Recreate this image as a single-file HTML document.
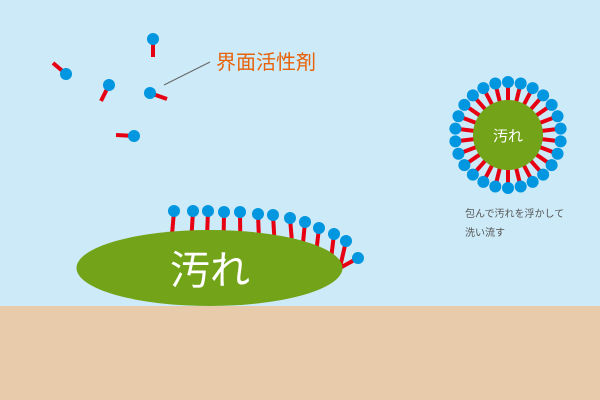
<!DOCTYPE html>
<html><head><meta charset="utf-8"><style>html,body{margin:0;padding:0;background:#cdeaf8}svg{display:block}</style></head>
<body>
<svg id="s" width="600" height="400" xmlns="http://www.w3.org/2000/svg" font-family="'Liberation Sans','Noto Sans CJK JP',sans-serif">
<rect width="600" height="400" fill="#cdeaf8"/>
<rect y="306" width="600" height="94" fill="#e8cbaa"/>
<g stroke="#e60012" stroke-width="4">
<line x1="66" y1="74" x2="53" y2="63"/>
<line x1="109" y1="85" x2="101" y2="101"/>
<line x1="153" y1="39" x2="153" y2="57"/>
<line x1="150" y1="93" x2="167" y2="99"/>
<line x1="134" y1="136" x2="116" y2="135"/>
</g>
<g fill="#0096e0">
<circle cx="66" cy="74" r="6"/><circle cx="109" cy="85" r="6"/><circle cx="153" cy="39" r="6"/><circle cx="150" cy="93" r="6"/><circle cx="134" cy="136" r="6"/>
</g>
<line x1="210" y1="62" x2="164" y2="85" stroke="#666" stroke-width="1"/>
<text x="216" y="69" font-size="20" fill="#e8620a">界面活性剤</text>
<g id="bot" stroke="#e60012" stroke-width="4"></g>
<g id="ring" stroke="#e60012" stroke-width="4"></g>
<ellipse cx="209.5" cy="268" rx="133" ry="38" fill="#72a318"/>
<text x="210" y="284" font-size="40" fill="#fff" text-anchor="middle">汚れ</text>
<circle cx="508" cy="135" r="35" fill="#72a318"/>
<text x="508" y="141" font-size="15" fill="#fff" text-anchor="middle">汚れ</text>
<text x="465" y="217" font-size="10" fill="#555">包んで汚れを浮かして</text>
<text x="465" y="236" font-size="10" fill="#555">洗い流す</text>
</svg>
<script>
var NS="http://www.w3.org/2000/svg",s=document.getElementById('s');
function add(p,t,a){var e=document.createElementNS(NS,t);for(var k in a)e.setAttribute(k,a[k]);p.appendChild(e);}
var heads=[[174,211],[193,211],[208,211],[224,212],[240,212],[258,214],[273,215],[290,218],[305,222],[319,228],[334,234],[346,241],[358,258]];
var bot=document.getElementById('bot');
heads.forEach(function(h){
 var dx=h[0]-209.5;var ang=Math.atan2(-Math.sqrt(Math.max(0,1-dx*dx/(133*133)))*38*133,dx*38);
 var tx=209.5+133*Math.cos(ang)*0.98, ty=268+38*Math.sin(ang)*0.98;
 if(h[0]<300){tx=h[0]-1+(h[0]-200)*0.03;ty=Math.max(ty,h[1]+14);}
 add(bot,'line',{x1:h[0],y1:h[1],x2:tx,y2:ty});
 add(s,'circle',{cx:h[0],cy:h[1],r:6,fill:'#0096e0'});
});
var ring=document.getElementById('ring');
for(var i=0;i<26;i++){var a=i/26*2*Math.PI-Math.PI/2;
 add(ring,'line',{x1:508+30*Math.cos(a),y1:135+30*Math.sin(a),x2:508+51*Math.cos(a),y2:135+51*Math.sin(a)});
 add(s,'circle',{cx:508+53*Math.cos(a),cy:135+53*Math.sin(a),r:6,fill:'#0096e0'});}
</script>
</body></html>
